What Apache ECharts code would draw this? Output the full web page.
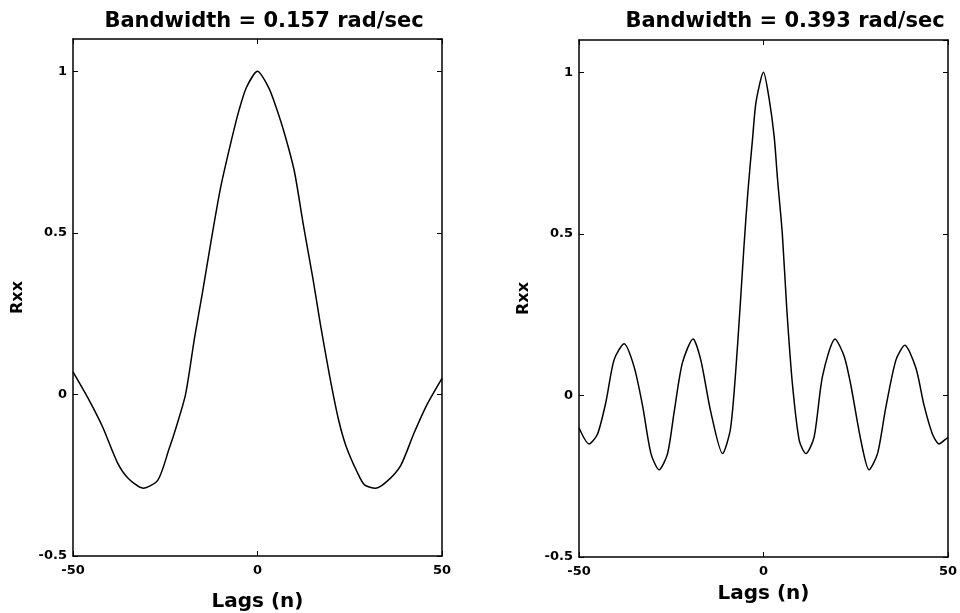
<!DOCTYPE html>
<html>
<head>
<meta charset="utf-8">
<script src="https://cdn.jsdelivr.net/npm/echarts@6/dist/echarts.min.js"></script>
<style>
  html, body { margin: 0; padding: 0; background: #fff; }
  #main { width: 960px; height: 613px; }
</style>
</head>
<body>
<div id="main"></div>
<script>
// 左图 Bandwidth = 0.157
var lagsLeft = [-50, -46, -42, -38, -35, -31, -27, -24, -22, -19.5, -17, -15, -12.5, -10, -7, -5, -3, 0,
  3, 5, 7.5, 10, 12.5, 15, 17, 19.5, 22, 24, 27, 29, 32, 35, 38.8, 42.4, 46, 50];
var rxxLeft = [0.07, -0.01, -0.10, -0.21, -0.26, -0.29, -0.265, -0.17, -0.10, 0, 0.18, 0.31, 0.48, 0.64, 0.79, 0.88, 0.95, 1.0,
  0.95, 0.89, 0.80, 0.69, 0.52, 0.36, 0.22, 0.06, -0.08, -0.16, -0.24, -0.28, -0.29, -0.27, -0.22, -0.12, -0.03, 0.05];

// 右图 Bandwidth = 0.393
var lagsRight = [-50, -47.3, -45, -42.7, -40.5, -37.8, -35.1, -32.8, -30.5, -28.3, -26, -24.2, -22, -19.1, -17, -14.3,
  -11.1, -8.9, -7, -5.3, -4.2, -3, -2, 0, 1.5, 2.9, 3.8, 5.1, 6.3, 7.8, 9.7, 11.5, 13.7, 16, 19.4, 21.9, 23.7,
  26.4, 28.6, 30.9, 33.1, 35.9, 38.3, 41.3, 43.5, 45.8, 47.6, 49.4, 50];
var rxxRight = [-0.10, -0.15, -0.12, -0.02, 0.11, 0.16, 0.09, -0.03, -0.18, -0.23, -0.18, -0.05, 0.10, 0.175, 0.11, -0.05,
  -0.18, -0.10, 0.16, 0.46, 0.635, 0.79, 0.91, 1.0, 0.92, 0.80, 0.67, 0.50, 0.27, 0.04, -0.14, -0.18, -0.13, 0.06, 0.175, 0.12, 0.03,
  -0.14, -0.23, -0.18, -0.04, 0.11, 0.155, 0.085, -0.03, -0.12, -0.15, -0.135, -0.13];

var titles = ['Bandwidth = 0.157 rad/sec', 'Bandwidth = 0.393 rad/sec'];

function pairs(xs, ys) {
  return xs.map(function (x, i) { return [x, ys[i]]; });
}

var font = '"DejaVu Sans", sans-serif';
var labelStyle = { color: '#000', fontFamily: font, fontWeight: 'bold', fontSize: 13 };
var lineSt = { color: '#000', width: 1.5 };

function xAx(gi, gap) {
  return {
    type: 'value', gridIndex: gi, min: -50, max: 50, interval: 50,
    name: 'Lags (n)', nameLocation: 'middle', nameGap: gap,
    nameTextStyle: { color: '#000', fontFamily: font, fontWeight: 'bold', fontSize: 20 },
    axisLine: { show: true, onZero: false, lineStyle: lineSt },
    axisTick: { inside: true, length: 5, lineStyle: { color: '#000' } },
    axisLabel: Object.assign({ margin: 8 }, labelStyle),
    splitLine: { show: false }
  };
}
function xTop(gi) {
  return {
    type: 'value', gridIndex: gi, position: 'top', min: -50, max: 50, interval: 50,
    axisLine: { show: true, onZero: false, lineStyle: lineSt },
    axisTick: { inside: true, length: 5, lineStyle: { color: '#000' } },
    axisLabel: { show: false }, splitLine: { show: false }
  };
}
function yAx(gi) {
  return {
    type: 'value', gridIndex: gi, min: -0.5, max: 1.1, interval: 0.5,
    name: 'Rxx', nameLocation: 'middle', nameGap: 47,
    nameTextStyle: { color: '#000', fontFamily: font, fontWeight: 'bold', fontSize: 16 },
    axisLine: { show: true, onZero: false, lineStyle: lineSt },
    axisTick: { inside: true, length: 5, lineStyle: { color: '#000' } },
    axisLabel: Object.assign({ margin: 6, showMaxLabel: false, formatter: function (v) {
      return Math.abs(v - 1.1) < 1e-6 ? '' : String(v);
    } }, labelStyle),
    splitLine: { show: false }
  };
}
function yRight(gi) {
  return {
    type: 'value', gridIndex: gi, position: 'right', min: -0.5, max: 1.1, interval: 0.5,
    axisLine: { show: true, onZero: false, lineStyle: lineSt },
    axisTick: { inside: true, length: 5, lineStyle: { color: '#000' } },
    axisLabel: { show: false }, splitLine: { show: false }
  };
}

var myChart = echarts.init(document.getElementById('main'));
var option = {
  animation: false,
  backgroundColor: '#fff',
  title: [
    { text: titles[0], left: 259, top: 6, textAlign: 'center',
      textStyle: { color: '#000', fontFamily: font, fontWeight: 'bold', fontSize: 21 } },
    { text: titles[1], left: 780, top: 6, textAlign: 'center',
      textStyle: { color: '#000', fontFamily: font, fontWeight: 'bold', fontSize: 21 } }
  ],
  grid: [
    { left: 73, right: 518, top: 39, bottom: 57, outerBoundsMode: 'none' },
    { left: 579, right: 12, top: 40, bottom: 56, outerBoundsMode: 'none' }
  ],
  xAxis: [xAx(0, 36), xAx(1, 27), xTop(0), xTop(1)],
  yAxis: [yAx(0), yAx(1), yRight(0), yRight(1)],
  series: [
    {
      type: 'line', xAxisIndex: 0, yAxisIndex: 0,
      data: pairs(lagsLeft, rxxLeft),
      showSymbol: false, smooth: 0.25,
      lineStyle: { color: '#000', width: 1.5 }
    },
    {
      type: 'line', xAxisIndex: 1, yAxisIndex: 1,
      data: pairs(lagsRight, rxxRight),
      showSymbol: false, smooth: 0.25,
      lineStyle: { color: '#000', width: 1.5 }
    }
  ]
};
myChart.setOption(option);
</script>
</body>
</html>
